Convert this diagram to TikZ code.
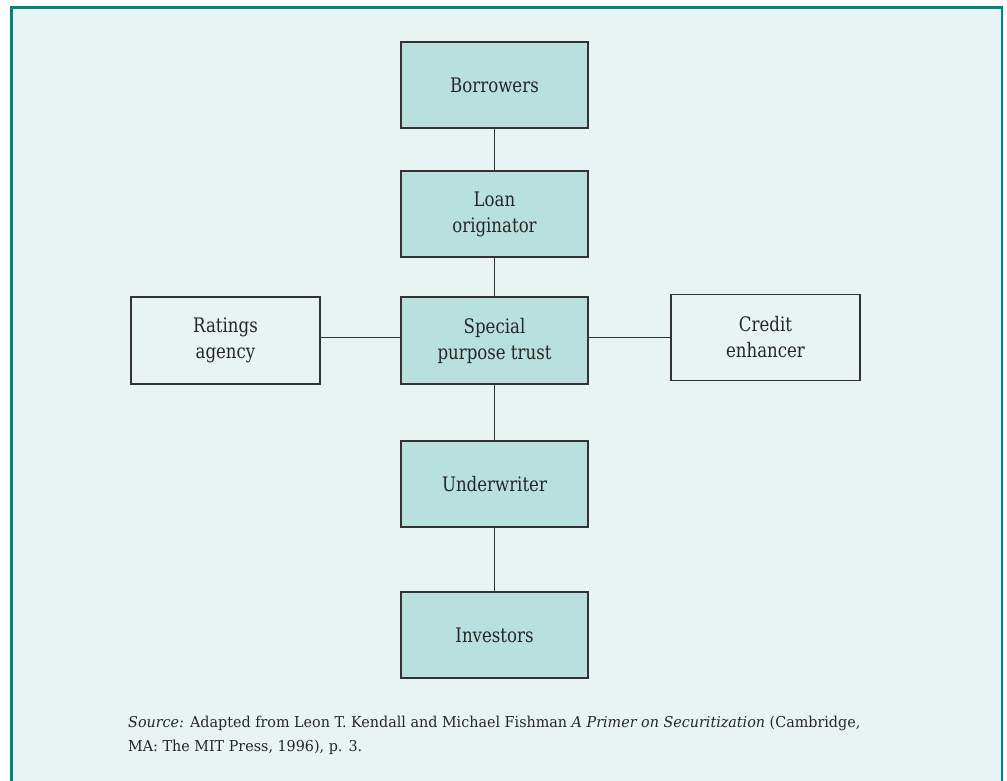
\documentclass[tikz,border=0pt]{standalone}
\usepackage{fontspec}
\setmainfont[FakeStretch=0.83]{DejaVu Serif}
\newfontfamily\notefont[FakeStretch=0.955]{DejaVu Serif}
\definecolor{frameteal}{HTML}{008585}
\definecolor{panelbg}{HTML}{E8F4F4}
\definecolor{boxfill}{HTML}{B8E0DF}
\definecolor{linegray}{HTML}{333333}

\begin{document}
\begin{tikzpicture}[x=1pt,y=-1pt,
    party/.style={draw=linegray,line width=1.4pt,fill=boxfill,minimum width=187pt,minimum height=86pt,
      inner sep=0pt,align=center,font=\fontsize{20}{26}\selectfont,text=black!85},
    outside/.style={party,fill=panelbg,minimum width=189pt},
    link/.style={draw=linegray,line width=1.4pt}]
  \useasboundingbox (0,0) rectangle (1007,781);
  % panel, open at the bottom
  \fill[panelbg] (11.5,7.5) rectangle (1002,781);
  \draw[frameteal,line width=2.5pt] (11.5,781) -- (11.5,7.5) -- (1002,7.5) -- (1002,781);

  % main chain
  \node[party] (borr) at (494.5,85) {Borrowers};
  \node[party] (orig) at (494.5,214) {Loan\\originator};
  \node[party,minimum height=87pt] (trust) at (494.5,340.5) {Special\\purpose trust};
  \node[party] (under) at (494.5,484) {Underwriter};
  \node[party] (inv) at (494.5,635) {Investors};

  % side parties
  \node[outside,minimum height=87pt] (rate) at (225.5,340.5) {Ratings\\agency};
  \node[outside] (cred) at (765.5,337.5) {Credit\\enhancer};

  \draw[link] (borr) -- (orig);
  \draw[link] (orig) -- (trust);
  \draw[link] (trust) -- (under);
  \draw[link] (under) -- (inv);
  \draw[link] (rate.east |- cred.west) -- (trust.west |- cred.west);
  \draw[link] (trust.east |- cred.west) -- (cred.west);

  \node[anchor=north west,align=left,inner sep=0pt,text=black!85,
    font=\notefont\fontsize{15}{24}\selectfont] (src) at (128,716)
    {\textit{Source:} Adapted from Leon T. Kendall and Michael Fishman \textit{A Primer on Securitization} (Cambridge,\\
     MA: The MIT Press, 1996), p. 3.};
\end{tikzpicture}
\end{document}
